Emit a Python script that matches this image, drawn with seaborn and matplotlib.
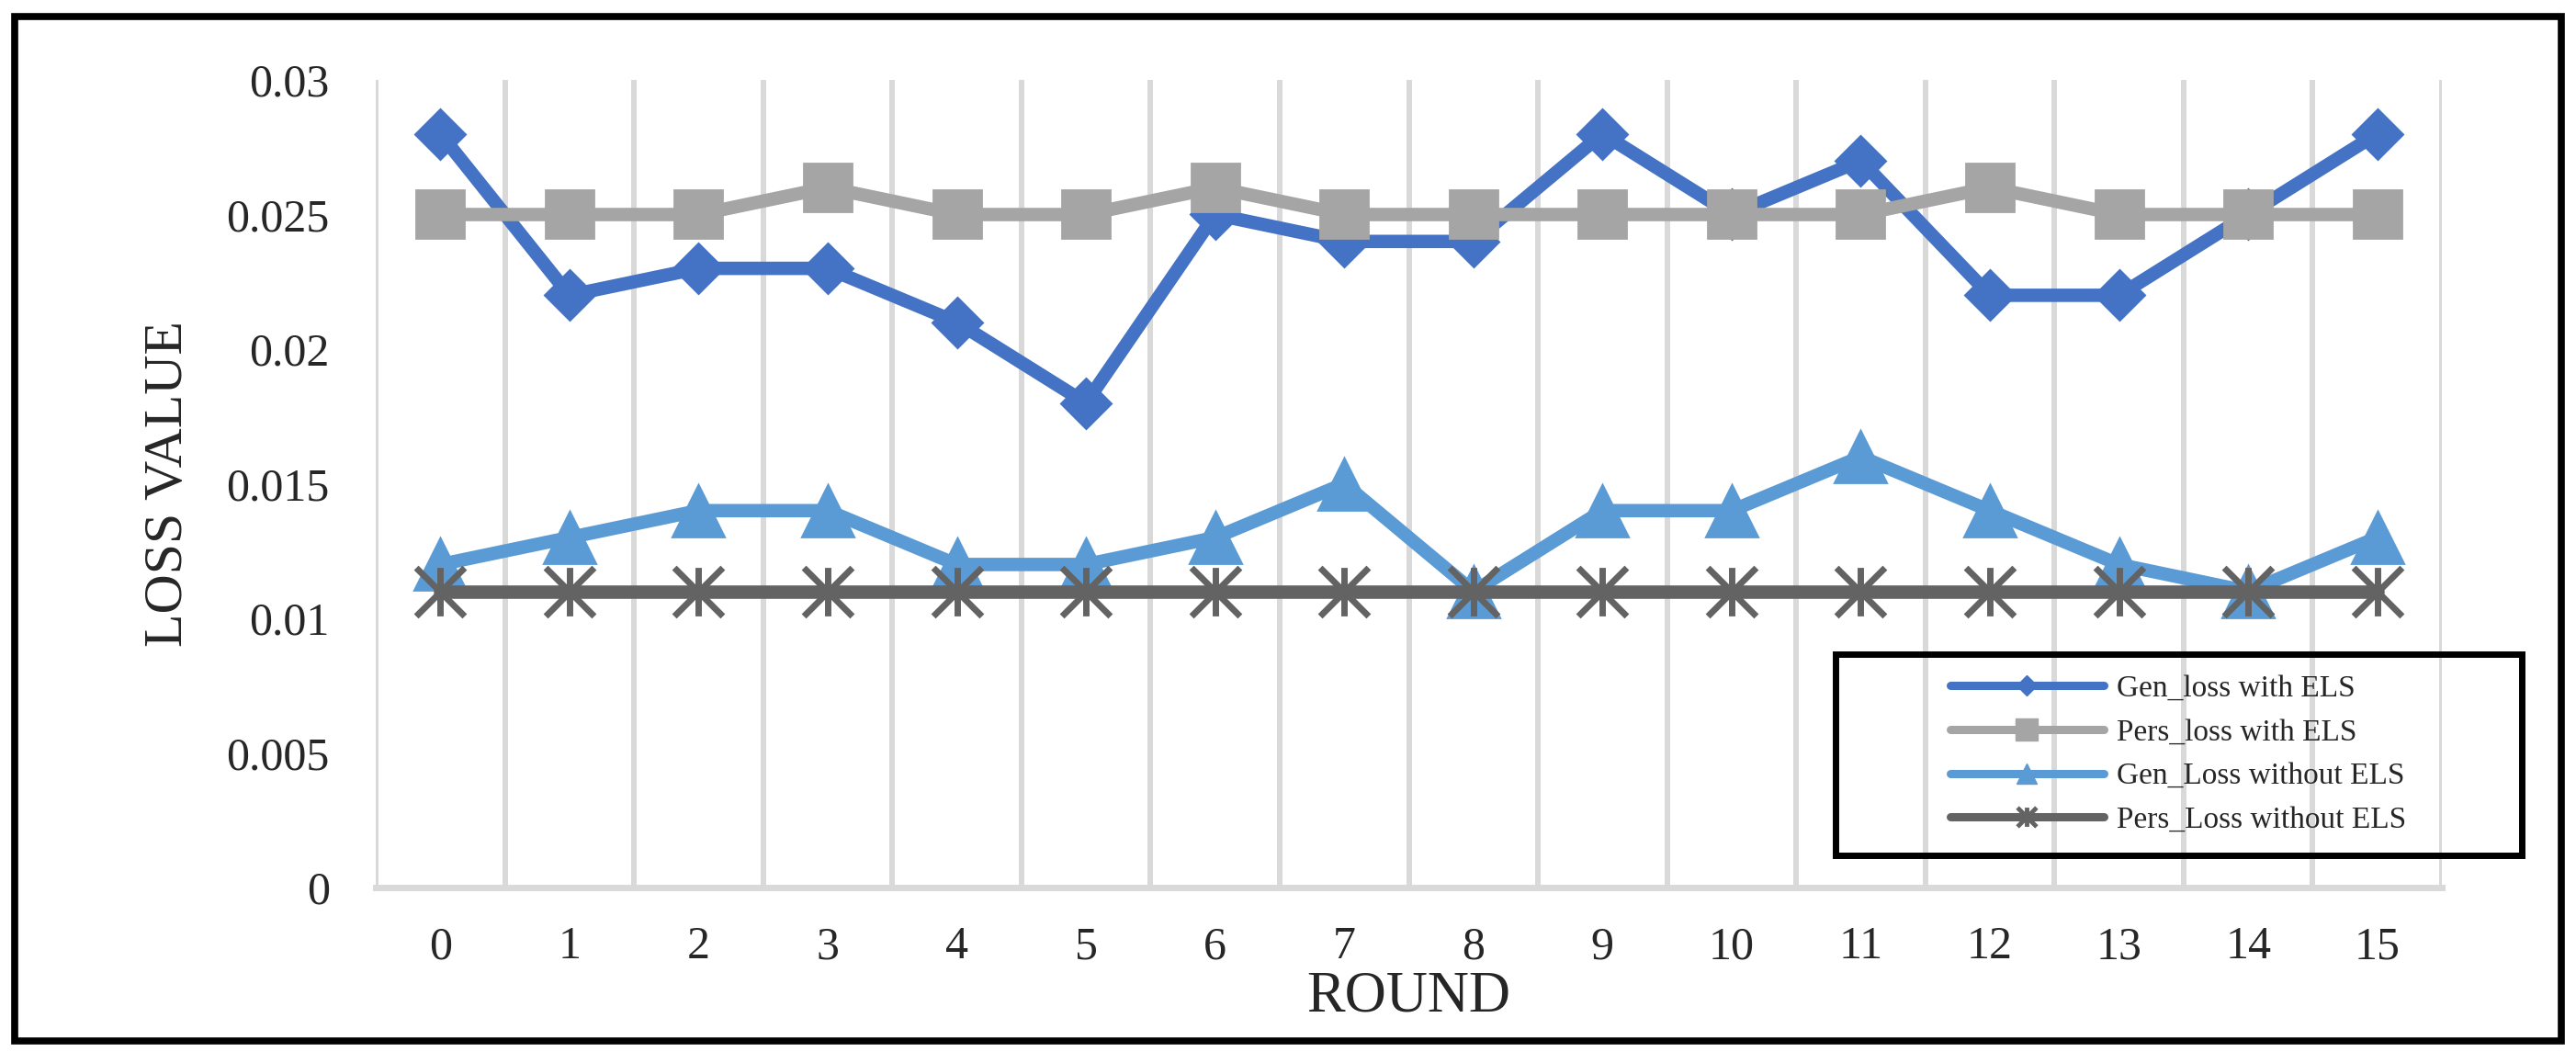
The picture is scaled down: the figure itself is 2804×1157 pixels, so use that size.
import numpy as np
import pandas as pd
import matplotlib
matplotlib.use("Agg")
import matplotlib.pyplot as plt
from matplotlib.patches import Rectangle
from matplotlib.path import Path
import seaborn as sns

# ---- data ----
rounds = list(range(16))
series_names = ["Gen_loss with ELS", "Pers_loss with ELS",
                "Gen_Loss without ELS", "Pers_Loss without ELS"]
gen_loss_els = [0.028, 0.022, 0.023, 0.023, 0.021, 0.018, 0.025, 0.024,
                0.024, 0.028, 0.025, 0.027, 0.022, 0.022, 0.025, 0.028]
pers_loss_els = [0.025, 0.025, 0.025, 0.026, 0.025, 0.025, 0.026, 0.025,
                 0.025, 0.025, 0.025, 0.025, 0.026, 0.025, 0.025, 0.025]
gen_loss_no = [0.012, 0.013, 0.014, 0.014, 0.012, 0.012, 0.013, 0.015,
               0.011, 0.014, 0.014, 0.016, 0.014, 0.012, 0.011, 0.013]
pers_loss_no = [0.011] * 16
y_ticks = [0, 0.005, 0.01, 0.015, 0.02, 0.025, 0.03]
y_tick_labels = ["0", "0.005", "0.01", "0.015", "0.02", "0.025", "0.03"]

colors = ["#4472C4", "#A5A5A5", "#5B9BD5", "#636363"]

star = Path([(0, -1), (0, 1), (-1, -1), (1, 1), (-1, 1), (1, -1)],
            [Path.MOVETO, Path.LINETO, Path.MOVETO, Path.LINETO, Path.MOVETO, Path.LINETO])

markers = ["D", "s", "^", star]
msizes = [28, 38, 40, 38]
mews = [2, 2, 2, 5]
leg_msizes = [11, 17, 16, 15]
leg_mews = [1, 1, 1, 3.5]

sns.set_theme(style="white")
plt.rcParams["font.family"] = ["Liberation Serif", "DejaVu Serif"]

W, H = 2804, 1157
fig = plt.figure(figsize=(W / 100, H / 100), dpi=100)
ax = fig.add_axes([409 / W, 1 - 966 / H, (2658 - 409) / W, (966 - 87) / H])

data = [gen_loss_els, pers_loss_els, gen_loss_no, pers_loss_no]
for name, vals, c, m, ms, mew in zip(series_names, data, colors, markers, msizes, mews):
    df = pd.DataFrame({"Round": rounds, "Loss": vals})
    sns.lineplot(data=df, x="Round", y="Loss", ax=ax, color=c, linewidth=10.5,
                 marker=m, markersize=ms, markeredgecolor=c, markerfacecolor=c,
                 markeredgewidth=mew, label=name, legend=False,
                 solid_joinstyle="round", solid_capstyle="round")

ax.set_xlim(-0.5, 15.5)
ax.set_ylim(0, 0.03)
ax.set_xticks(rounds)
ax.set_xticklabels([str(r) for r in rounds], fontsize=36)
ax.set_xticks(np.arange(-0.5, 16, 1), minor=True)
ax.set_yticks(y_ticks)
ax.set_yticklabels(y_tick_labels, fontsize=36)
ax.tick_params(axis="both", which="both", length=0)
ax.tick_params(axis="y", pad=36)
ax.tick_params(axis="x", pad=30)
ax.grid(False)
ax.grid(which="minor", axis="x", color="#D9D9D9", linewidth=4.3)
ax.set_axisbelow(True)
for s in ["top", "left", "right"]:
    ax.spines[s].set_visible(False)
ax.spines["bottom"].set_color("#D9D9D9")
ax.spines["bottom"].set_linewidth(5)
ax.spines["bottom"].set_zorder(0.5)

ax.set_xlabel("ROUND", fontsize=45, labelpad=2)
ax.set_ylabel("LOSS VALUE", fontsize=43, labelpad=26)

# legend
handles, labels = ax.get_legend_handles_labels()
leg = fig.legend(handles, labels, loc="center left",
                 bbox_to_anchor=(2123 / W, 1 - 821 / H), bbox_transform=fig.transFigure,
                 frameon=False, fontsize=24, handlelength=5.0, handletextpad=0.42,
                 labelspacing=0.52, borderpad=0, borderaxespad=0)
for h, lms, lmew in zip(leg.legend_handles, leg_msizes, leg_mews):
    h.set_markersize(lms)
    h.set_markeredgewidth(lmew)
    h.set_linewidth(6.5)
    h.set_solid_capstyle("round")

fig.patches.append(Rectangle((1998 / W, 1 - 931 / H), (2745 - 1998) / W, (931 - 712) / H,
                             transform=fig.transFigure, fill=False, edgecolor="black",
                             linewidth=5, zorder=5))
fig.patches.append(Rectangle((16 / W, 1 - 1133 / H), (2788 - 16) / W, (1133 - 18) / H,
                             transform=fig.transFigure, fill=False, edgecolor="black",
                             linewidth=5.5, zorder=5))

fig.savefig("out.png", dpi=100, facecolor="white")
